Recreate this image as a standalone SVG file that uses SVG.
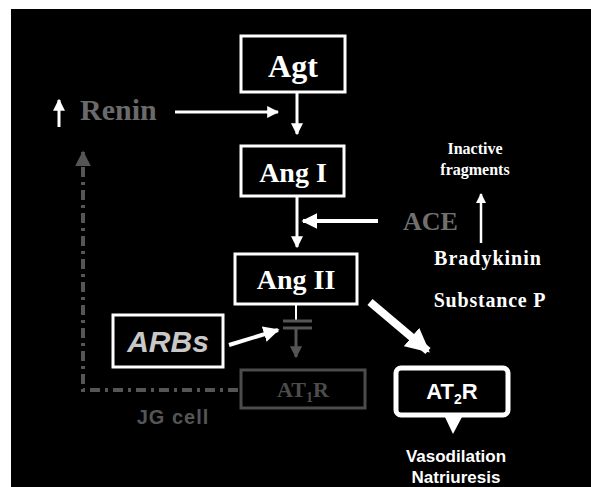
<svg xmlns="http://www.w3.org/2000/svg" width="591" height="487" viewBox="0 0 591 487">
  <defs>
    <style>
      .box { fill: #000; stroke: #fff; stroke-width: 3; }
      .dim { fill: #000; stroke: #4c4c4c; stroke-width: 3; }
      .serif { font-family: "Liberation Serif", "Times New Roman", serif; font-weight: bold; }
      .sans { font-family: "Liberation Sans", Arial, sans-serif; font-weight: bold; }
      .w { fill: #fff; }
      .link { stroke: #fff; fill: none; }
    </style>
    <marker id="head" viewBox="0 0 10 10" refX="9" refY="5" markerWidth="4" markerHeight="4" orient="auto" markerUnits="strokeWidth">
      <path d="M0,0 L10,5 L0,10 z" fill="#fff"/>
    </marker>
    <marker id="headGray" viewBox="0 0 10 10" refX="9" refY="5" markerWidth="4" markerHeight="4" orient="auto" markerUnits="strokeWidth">
      <path d="M0,0 L10,5 L0,10 z" fill="#555"/>
    </marker>
    <marker id="headBig" viewBox="0 0 10 10" refX="9" refY="5" markerWidth="3" markerHeight="3" orient="auto" markerUnits="strokeWidth">
      <path d="M0,0 L10,5 L0,10 z" fill="#fff"/>
    </marker>
  </defs>

  <!-- page margin and dark panel -->
  <rect x="0" y="0" width="591" height="487" fill="#fff"/>
  <rect x="11" y="9" width="580" height="478" fill="#000"/>

  <!-- connectors -->
  <g id="connectors">
    <line class="link" x1="297" y1="92" x2="297" y2="134" stroke-width="3" marker-end="url(#head)"/>
    <line class="link" x1="175" y1="112" x2="278" y2="112" stroke-width="3" marker-end="url(#head)"/>
    <line class="link" x1="297" y1="196" x2="297" y2="247" stroke-width="3" marker-end="url(#head)"/>
    <line class="link" x1="378" y1="221" x2="303" y2="221" stroke-width="4" marker-end="url(#head)"/>
    <line class="link" x1="481" y1="243" x2="481" y2="194" stroke-width="2.5" marker-end="url(#head)"/>
    <line class="link" x1="59" y1="127" x2="59" y2="100" stroke-width="3" marker-end="url(#head)"/>
    <!-- Ang II to AT1R, blocked -->
    <line x1="296" y1="304" x2="296" y2="321" stroke="#fff" stroke-width="2"/>
    <line x1="283" y1="321" x2="312" y2="321" stroke="#555" stroke-width="3"/>
    <line x1="283" y1="328" x2="312" y2="328" stroke="#555" stroke-width="3"/>
    <line x1="296" y1="328" x2="296" y2="357" stroke="#555" stroke-width="3" marker-end="url(#headGray)"/>
    <line class="link" x1="229" y1="345" x2="278" y2="330" stroke-width="4" marker-end="url(#head)"/>
    <line class="link" x1="370" y1="302" x2="428" y2="351" stroke-width="8" marker-end="url(#headBig)"/>
    <!-- JG cell feedback -->
    <path d="M238,390 L83,390 L83,152" fill="none" stroke="#555" stroke-width="4" stroke-dasharray="10,5,3,5" marker-end="url(#headGray)"/>
  </g>

  <g id="agt">
    <rect class="box" x="241" y="36" width="104" height="56"/>
    <text class="serif w" x="293" y="77" font-size="32" text-anchor="middle">Agt</text>
  </g>

  <g id="renin">
    <text class="serif" x="80" y="120" font-size="30" fill="#6a6a6a">Renin</text>
  </g>

  <g id="ang1">
    <rect class="box" x="241" y="146" width="103" height="50"/>
    <text class="serif w" x="293" y="182" font-size="28" text-anchor="middle">Ang I</text>
  </g>

  <g id="ace">
    <text class="serif" x="403" y="230" font-size="26" fill="#707070">ACE</text>
  </g>

  <g id="fragments">
    <text class="serif w" x="475" y="154" font-size="16" text-anchor="middle">Inactive</text>
    <text class="serif w" x="475" y="175" font-size="16" text-anchor="middle">fragments</text>
  </g>

  <g id="bradykinin">
    <text class="serif w" x="488" y="265" font-size="20" text-anchor="middle" letter-spacing="1">Bradykinin</text>
  </g>

  <g id="substance-p">
    <text class="serif w" x="490" y="307" font-size="20" text-anchor="middle" letter-spacing="0.8">Substance P</text>
  </g>

  <g id="ang2">
    <rect class="box" x="235" y="254" width="122" height="50"/>
    <text class="serif w" x="296" y="289" font-size="28" text-anchor="middle">Ang II</text>
  </g>

  <g id="arbs">
    <rect class="box" x="113" y="315" width="110" height="52"/>
    <text class="sans" x="168" y="352" font-size="30" font-style="italic" text-anchor="middle" fill="#c8c8c8">ARBs</text>
  </g>

  <g id="at1r">
    <rect class="dim" x="241" y="370" width="124" height="38"/>
    <text class="serif" x="303" y="397" font-size="22" text-anchor="middle" fill="#4c4c4c">AT<tspan font-size="14" dy="5">1</tspan><tspan dy="-5">R</tspan></text>
  </g>

  <g id="jg-cell">
    <text class="sans" x="173" y="424" font-size="20" text-anchor="middle" fill="#555" font-weight="normal" letter-spacing="1">JG cell</text>
  </g>

  <g id="at2r">
    <rect x="396" y="368" width="112" height="47" rx="5" fill="#000" stroke="#fff" stroke-width="5"/>
    <path d="M444,415 L463,415 L453,434 z" fill="#fff"/>
    <text class="sans w" x="452" y="399" font-size="22" text-anchor="middle">AT<tspan font-size="14" dy="5">2</tspan><tspan dy="-5">R</tspan></text>
  </g>

  <g id="effects">
    <text class="sans w" x="456" y="462" font-size="17" text-anchor="middle">Vasodilation</text>
    <text class="sans w" x="456" y="483" font-size="17" text-anchor="middle">Natriuresis</text>
  </g>
</svg>
